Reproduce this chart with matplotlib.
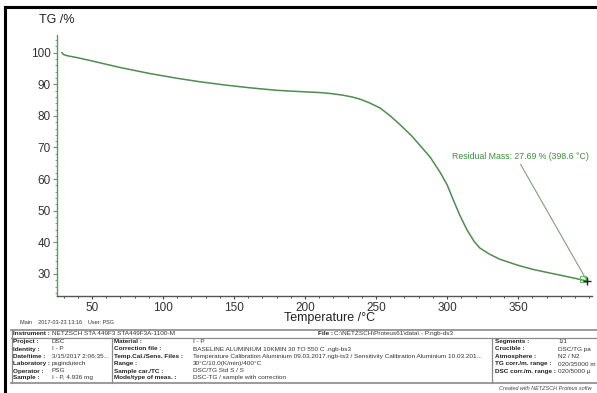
import matplotlib
matplotlib.use("Agg")
import matplotlib.pyplot as plt
from matplotlib.lines import Line2D
from matplotlib.ticker import MultipleLocator, FixedLocator

plt.rcParams['font.family'] = ['Liberation Sans', 'DejaVu Sans']

# ---- data ----
temperature = [28.9, 30, 33, 40, 50, 55.6, 70, 90.8, 110, 126, 145, 161, 180, 196,
               210, 217.6, 226, 233, 238.7, 245, 252.8, 260, 266.9, 275, 281, 288, 295,
               300, 304, 309, 313.9, 319, 323, 330, 337.3, 350, 360.6, 370, 379.6,
               390, 398.6]
tg = [100.0, 99.4, 99.0, 98.4, 97.4, 96.8, 95.3, 93.4, 91.9, 90.8, 89.7, 88.9,
      88.1, 87.7, 87.4, 87.1, 86.6, 86.0, 85.3, 84.2, 82.5, 80.0, 77.2, 73.7, 70.6,
      67.0, 62.2, 58.2, 53.8, 48.5, 44.0, 40.3, 38.2, 36.2, 34.6, 32.7, 31.4,
      30.5, 29.6, 28.6, 27.69]
x_ticks = [50, 100, 150, 200, 250, 300, 350]
y_ticks = [30, 40, 50, 60, 70, 80, 90, 100]
residual_T = 398.6
residual_TG = 27.69
residual_text = "Residual Mass: 27.69 % (398.6 °C)"
label_anchor = (351.8, 64.6)

W, H = 597, 393
def fx(x): return x / W
def fy(y): return 1 - y / H

GREEN = '#4f8c4f'
fig = plt.figure(figsize=(W / 100, H / 100), dpi=100)
fig.patch.set_facecolor('white')

ax = fig.add_axes([fx(57), fy(296), (592 - 57) / W, (296 - 35) / H])
ax.plot(temperature, tg, color=GREEN, lw=1.1)
ax.set_xlim(25.4, 402)
ax.set_ylim(23, 105.6)

# annotation
ax.plot([label_anchor[0], residual_T], [label_anchor[1], residual_TG],
        color='#7f9f7f', lw=0.8)
ax.text(label_anchor[0], label_anchor[1] + 1.0, residual_text, ha='center', va='bottom',
        fontsize=6.3, color='#3f8f3f')
ax.plot([395.8], [28.3], marker='s', ms=4.5, mfc='none', mec='#5fbf5f', mew=0.8)
ax.plot([residual_T], [residual_TG], marker='+', ms=6, color='#222222', mew=1.0)

for s in ['top', 'right']:
    ax.spines[s].set_visible(False)
ax.spines['left'].set_color('#5a9a5a')
ax.spines['bottom'].set_color('#555555')
ax.spines['left'].set_linewidth(1.0)
ax.spines['bottom'].set_linewidth(1.0)

ax.xaxis.set_major_locator(FixedLocator(x_ticks))
ax.xaxis.set_minor_locator(MultipleLocator(10))
ax.yaxis.set_major_locator(FixedLocator(y_ticks))
ax.yaxis.set_minor_locator(MultipleLocator(2))
ax.tick_params(axis='x', which='major', direction='out', length=2.4, width=0.8,
               color='#444444', labelsize=8.5, labelcolor='#333333', pad=1.8)
ax.tick_params(axis='x', which='minor', direction='out', length=1.6, width=0.7,
               color='#444444')
ax.tick_params(axis='y', which='major', direction='out', length=2.8, width=0.8,
               color='#5a9a5a', labelsize=8.5, labelcolor='#333333', pad=1.5)
ax.tick_params(axis='y', which='minor', direction='out', length=1.4, width=0.6,
               color='#5a9a5a')

fig.text(fx(39), fy(20), "TG /%", fontsize=9, color='#222222', ha='left', va='center')
fig.text(fx(330), fy(318.5), "Temperature /°C", fontsize=9, color='#222222',
         ha='center', va='center')

# outer frame
fig.add_artist(Line2D([fx(5), fx(597)], [fy(7), fy(7)], transform=fig.transFigure,
                      color='black', lw=2.2))
fig.add_artist(Line2D([fx(5), fx(5)], [fy(7), fy(393)], transform=fig.transFigure,
                      color='black', lw=2.2))

# info table
TC = '#8a8a8a'
def hline(y, x0=11, x1=597, lw=0.9):
    fig.add_artist(Line2D([fx(x0), fx(x1)], [fy(y), fy(y)], transform=fig.transFigure,
                          color=TC, lw=lw))
def vline(x, y0, y1, lw=0.9):
    fig.add_artist(Line2D([fx(x), fx(x)], [fy(y0), fy(y1)], transform=fig.transFigure,
                          color=TC, lw=lw))

hline(329.5, lw=1.2)
hline(337.5)
hline(382.5, lw=1.2)
vline(11.5, 329.5, 382.5)
vline(112, 337.5, 382.5)
vline(492, 337.5, 382.5)

FS = 4.6
TXT = '#333333'
fig.text(fx(20), fy(322.5), "Main    2017-03-23 13:16    User: PSG", fontsize=4.0,
         color=TXT, va='center')
fig.text(fx(13), fy(333.5), "Instrument :", fontsize=FS, color='#222222', weight='bold', va='center')
fig.text(fx(52), fy(333.5), "NETZSCH STA 449F3 STA449F3A-1100-M", fontsize=FS, color=TXT, va='center')
fig.text(fx(318), fy(333.5), "File :", fontsize=FS, color='#222222', weight='bold', va='center')
fig.text(fx(334), fy(333.5), "C:\\NETZSCH\\Proteus61\\data\\ - P.ngb-ds3", fontsize=FS, color=TXT, va='center')

rows_y = [341.5, 349, 356.5, 364, 371, 378]
col1_labels = ["Project :", "Identity :", "Date/time :", "Laboratory :", "Operator :", "Sample :"]
col1_values = ["DSC", "I - P", "3/15/2017 2:06:35...", "psgindutech", "PSG", "I - P, 4.936 mg"]
col2_labels = ["Material :", "Correction file :", "Temp.Cal./Sens. Files :", "Range :",
               "Sample car./TC :", "Mode/type of meas. :"]
col2_values = ["I - P", "BASELINE ALUMINIUM 10KMIN 30 TO 550 C .ngb-bs3",
               "Temperature Calibration Aluminium 09.03.2017.ngb-ts3 / Sensitivity Calibration Aluminium 10.03.201...",
               "30°C/10.0(K/min)/400°C", "DSC/TG Std S / S", "DSC-TG / sample with correction"]
col3_labels = ["Segments :", "Crucible :", "Atmosphere :", "TG corr./m. range :", "DSC corr./m. range :"]
col3_values = ["1/1", "DSC/TG pa", "N2 / N2", "020/35000 m", "020/5000 µ"]

for i, y in enumerate(rows_y):
    fig.text(fx(13), fy(y), col1_labels[i], fontsize=FS, color='#222222', weight='bold', va='center')
    fig.text(fx(52), fy(y), col1_values[i], fontsize=FS, color=TXT, va='center')
    fig.text(fx(114.5), fy(y), col2_labels[i], fontsize=FS, color='#222222', weight='bold', va='center')
    fig.text(fx(193), fy(y), col2_values[i], fontsize=FS, color=TXT, va='center')
for i, y in enumerate(rows_y[:5]):
    fig.text(fx(495), fy(y), col3_labels[i], fontsize=FS, color='#222222', weight='bold', va='center')
    fig.text(fx(558), fy(y), col3_values[i], fontsize=FS, color=TXT, va='center')

fig.text(fx(499), fy(389), "Created with NETZSCH Proteus softw", fontsize=4.0,
         color='#444444', style='italic', va='center')

fig.savefig("out.png", dpi=100)
